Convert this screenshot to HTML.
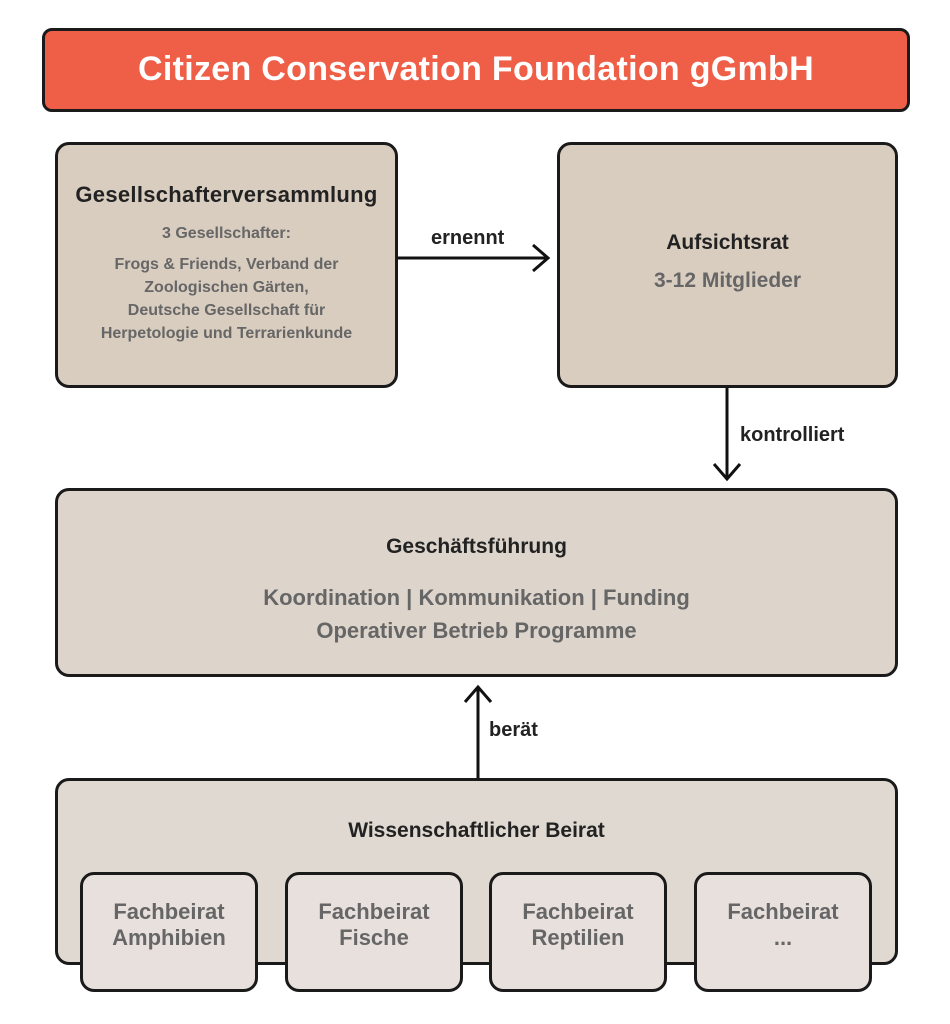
<!DOCTYPE html>
<html><head><meta charset="utf-8"><style>
body{margin:0;width:950px;height:1024px;background:#fff;position:relative;font-family:"Liberation Sans","DejaVu Sans",sans-serif;overflow:hidden}
.b{position:absolute;box-sizing:border-box;border:3px solid #1a1a1a;border-radius:14px;text-align:center}
.t{position:absolute;left:0;right:0;text-align:center}
.h{font-weight:bold;color:#222;font-size:21px}
.g{color:#666;font-weight:bold}
.lbl{position:absolute;font-size:20px;color:#222;font-weight:bold}
</style></head><body>
<div class="b" style="left:42px;top:28px;width:868px;height:84px;background:#ef5f48;border-radius:10px">
<div class="t" style="top:19px;font-size:34px;color:#fff;font-weight:bold;letter-spacing:0.3px">Citizen Conservation Foundation gGmbH</div></div>

<div class="b" style="left:55px;top:142px;width:343px;height:246px;background:#d9cdc0">
<div class="t h" style="top:37px;font-size:22px;letter-spacing:0.3px">Gesellschafterversammlung</div>
<div class="t g" style="top:80px;font-size:16px">3 Gesellschafter:</div>
<div class="t g" style="top:108px;font-size:16px;line-height:23px">Frogs &amp; Friends, Verband der<br>Zoologischen Gärten,<br>Deutsche Gesellschaft für<br>Herpetologie und Terrarienkunde</div></div>

<div class="b" style="left:557px;top:142px;width:341px;height:246px;background:#d9cdc0">
<div class="t h" style="top:86px">Aufsichtsrat</div>
<div class="t g" style="top:124px;font-size:21px">3-12 Mitglieder</div></div>

<div class="b" style="left:55px;top:488px;width:843px;height:189px;background:#ddd5cc">
<div class="t h" style="top:44px">Geschäftsführung</div>
<div class="t g" style="top:90px;font-size:22px;line-height:33px">Koordination | Kommunikation | Funding<br>Operativer Betrieb Programme</div></div>

<div class="b" style="left:55px;top:778px;width:843px;height:187px;background:#e0d9d2">
<div class="t h" style="top:38px">Wissenschaftlicher Beirat</div></div>

<div class="b" style="left:80px;top:872px;width:178px;height:120px;background:#e8e0dc"><div class="t g" style="top:24px;font-size:22px;line-height:26px">Fachbeirat<br>Amphibien</div></div>
<div class="b" style="left:285px;top:872px;width:178px;height:120px;background:#e8e0dc"><div class="t g" style="top:24px;font-size:22px;line-height:26px">Fachbeirat<br>Fische</div></div>
<div class="b" style="left:489px;top:872px;width:178px;height:120px;background:#e8e0dc"><div class="t g" style="top:24px;font-size:22px;line-height:26px">Fachbeirat<br>Reptilien</div></div>
<div class="b" style="left:694px;top:872px;width:178px;height:120px;background:#e8e0dc"><div class="t g" style="top:24px;font-size:22px;line-height:26px">Fachbeirat<br>...</div></div>

<svg width="950" height="1024" style="position:absolute;left:0;top:0" fill="none" stroke="#111" stroke-width="3">
<path d="M398 258H547M533 245L548 258L533 271"/>
<path d="M727 388V478M714 464L727 479L740 464"/>
<path d="M478 778V688M465 702L478 687L491 702"/>
</svg>
<div class="lbl" style="left:431px;top:227px">ernennt</div>
<div class="lbl" style="left:740px;top:424px">kontrolliert</div>
<div class="lbl" style="left:489px;top:719px">berät</div>
</body></html>
